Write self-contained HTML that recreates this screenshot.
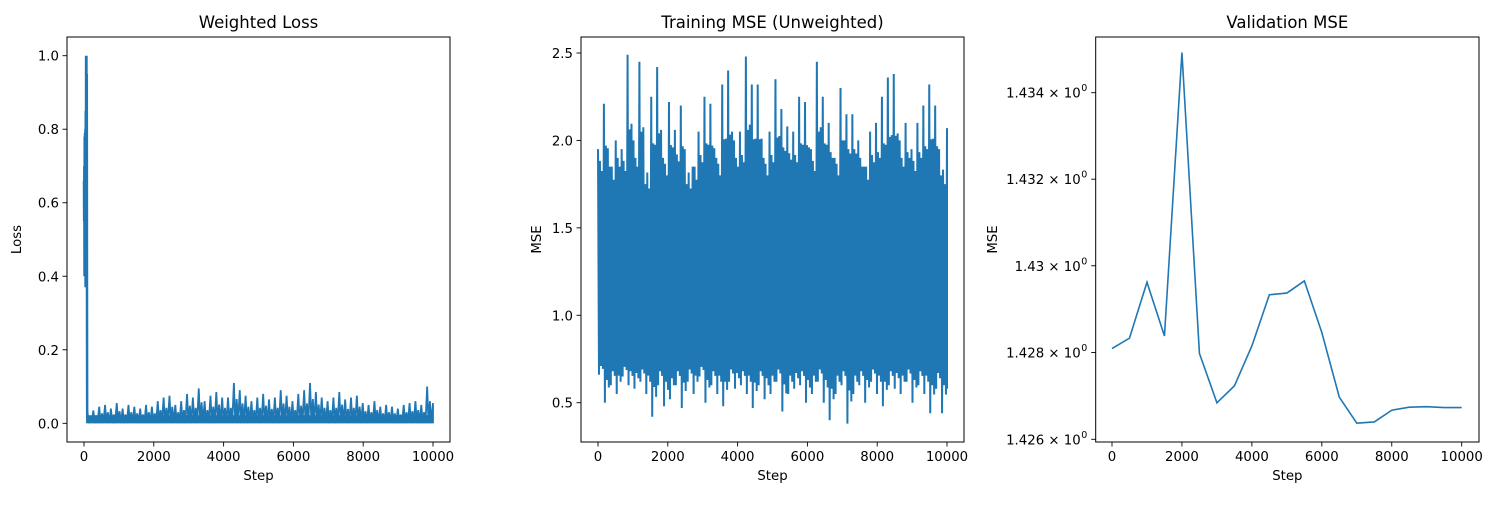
<!DOCTYPE html>
<html><head><meta charset="utf-8"><style>
body{margin:0;background:#fff}
svg text{font-family:"DejaVu Sans","Liberation Sans",sans-serif;fill:#000}
</style></head><body>
<svg id="fig" width="1500" height="500" viewBox="0 0 1500 500" xmlns="http://www.w3.org/2000/svg"></svg>
<script>
// ---- data ----
const stepTicks=[0,2000,4000,6000,8000,10000];
const lossTicks=[0.0,0.2,0.4,0.6,0.8,1.0];
const mseTicks=[0.5,1.0,1.5,2.0,2.5];
const valTicks=[1.426,1.428,1.430,1.432,1.434];
const valTickLabels=["1.426","1.428","1.43","1.432","1.434"];
// early loss (steps 0-90) envelope
const lossEarlySteps=[0,10,20,30,40,50,60,70,80,90];
const lossEarlyHi=[0.66,0.70,0.78,0.79,0.80,0.85,1.0,1.0,0.95,0.05];
const lossEarlyLo=[0.55,0.40,0.45,0.42,0.37,0.39,0.45,0.37,0.40,0.0];
// later loss per-bin peaks (60 bins from 100 to 10000)
const lossHi=[0.03,0.035,0.045,0.05,0.04,0.055,0.04,0.05,0.045,0.04,0.05,0.045,0.06,0.07,0.075,0.05,0.06,0.08,0.07,0.095,0.06,0.075,0.085,0.07,0.07,0.11,0.09,0.075,0.06,0.07,0.08,0.065,0.07,0.09,0.075,0.06,0.08,0.09,0.11,0.085,0.07,0.06,0.07,0.085,0.065,0.07,0.075,0.055,0.05,0.06,0.045,0.05,0.045,0.04,0.05,0.055,0.06,0.05,0.10,0.055];
// training MSE per-bin envelopes (60 bins over 0-10000)
const mseHi=[1.95,2.21,1.85,2.0,1.95,2.49,2.0,2.45,1.75,2.25,2.42,1.9,2.22,2.06,2.2,1.75,1.85,2.05,2.25,2.21,1.9,2.32,2.4,2.0,2.05,2.48,2.32,2.32,1.9,2.05,2.35,2.18,2.08,2.05,2.25,2.22,1.95,2.45,2.25,2.1,1.9,2.3,2.15,2.15,2.0,1.85,2.05,2.1,2.25,2.36,2.38,2.0,2.1,1.95,2.1,2.2,2.32,2.2,1.8,2.07];
const mseLo=[0.66,0.5,0.6,0.55,0.65,0.6,0.58,0.62,0.55,0.42,0.6,0.48,0.52,0.6,0.47,0.62,0.55,0.65,0.5,0.6,0.55,0.48,0.62,0.58,0.6,0.55,0.47,0.6,0.52,0.55,0.62,0.45,0.55,0.58,0.6,0.5,0.55,0.62,0.5,0.4,0.55,0.6,0.38,0.55,0.6,0.5,0.62,0.55,0.48,0.6,0.58,0.55,0.62,0.5,0.6,0.55,0.44,0.58,0.44,0.58];
const mseCoreHi=1.7, mseCoreLo=0.76;
// validation MSE
const valSteps=[0,500,1000,1500,2000,2500,3000,3500,4000,4500,5000,5500,6000,6500,7000,7500,8000,8500,9000,9500,10000];
const valMSE=[1.42809,1.42833,1.42962,1.42838,1.43493,1.42798,1.42684,1.42723,1.42815,1.42933,1.42937,1.42965,1.42846,1.42697,1.42637,1.42640,1.42667,1.42674,1.42675,1.42673,1.42673];

const NS="http://www.w3.org/2000/svg";
const svg=document.getElementById('fig');
const C='#1f77b4';
function mk(tag,attrs,parent){const e=document.createElementNS(NS,tag);for(const k in attrs)e.setAttribute(k,attrs[k]);(parent||svg).appendChild(e);return e;}
function lin(d0,d1,r0,r1){return v=>r0+(v-d0)/(d1-d0)*(r1-r0);}
const cl=s=>Math.min(10000,s);

function axesFrame(g,L,T,R,B,title,ylab,xs,ys,yt,ytl,sup,ylx){
  const t=mk('text',{x:(L+R)/2,y:T-9,'text-anchor':'middle','font-size':'16.5'},g);t.textContent=title;
  
  
  stepTicks.forEach(v=>{const x=xs(v);mk('line',{x1:x,x2:x,y1:B,y2:B+4.5,stroke:'#000','stroke-width':0.9},g);
    const l=mk('text',{x:x,y:B+19,'text-anchor':'middle','font-size':'13.3'},g);l.textContent=v;
    
    });
  yt.forEach((v,i)=>{const y=ys(v);mk('line',{x1:L-4.5,x2:L,y1:y,y2:y,stroke:'#000','stroke-width':0.9},g);
    if(sup){
      const l=mk('text',{x:L-15,y:y+5,'text-anchor':'end','font-size':'13.3'},g);l.textContent=ytl[i]+' × 10';
      
      
      mk('text',{x:L-14.5,y:y-1.5,'text-anchor':'start','font-size':'9.5'},g).textContent='0';
    } else {
      const l=mk('text',{x:L-8,y:y+5,'text-anchor':'end','font-size':'13.3'},g);l.textContent=v.toFixed(1);
      
      
    }
  });
  const xl=mk('text',{x:(L+R)/2,y:B+38,'text-anchor':'middle','font-size':'13.3'},g);xl.textContent='Step';
  
  
  const yx=ylx;
  const yl=mk('text',{x:yx,y:(T+B)/2,'text-anchor':'middle','font-size':'13.3',transform:`rotate(-90 ${yx} ${(T+B)/2})`},g);yl.textContent=ylab;
  
  
}
function border(g,L,T,R,B){const r=mk('rect',{x:L,y:T,width:R-L,height:B-T,fill:'none',stroke:'#000','stroke-width':1},g);
  
  }

// ---- Plot 1: weighted loss ----
{const L=67,T=37,R=450,B=442;
 const g=mk('g',{});
 const xs=lin(0,10000,84,433), ys=lin(0,1,423.3,55.7);
 let pts=[];lossEarlySteps.forEach((s,i)=>{pts.push(xs(s)+','+ys(lossEarlyHi[i]));pts.push(xs(s+5)+','+ys(lossEarlyLo[i]));});
 const e=mk('polyline',{points:pts.join(' '),fill:'none',stroke:C,'stroke-width':2.5},g);
 
 const n=lossHi.length, x0=100;
 const core=mk('rect',{x:xs(x0),y:ys(0.022),width:xs(10000)-xs(x0),height:ys(0)-ys(0.022),fill:C},g);
 
 let p2=[];lossHi.forEach((v,i)=>{const s=x0+i*(10000-x0)/(n-1);p2.push(xs(cl(s))+','+ys(v));p2.push(xs(cl(s+40))+','+ys(0));p2.push(xs(cl(s+80))+','+ys(v*0.6));p2.push(xs(cl(s+120))+','+ys(0));});
 const l=mk('polyline',{points:p2.join(' '),fill:'none',stroke:C,'stroke-width':1.8},g);
 
 axesFrame(g,L,T,R,B,'Weighted Loss','Loss',xs,ys,lossTicks,null,false,21);border(g,L,T,R,B);}

// ---- Plot 2: training MSE ----
{const L=581,T=37,R=964,B=442;
 const g=mk('g',{});
 const xs=lin(0,10000,598,947), ys=lin(0.5,2.5,402.7,53);
 const core=mk('rect',{x:xs(0),y:ys(mseCoreHi),width:xs(10000)-xs(0),height:ys(mseCoreLo)-ys(mseCoreHi),fill:C},g);
 
 const n=mseHi.length;let pts=[];
 mseHi.forEach((v,i)=>{const s=i*10000/(n-1);
   pts.push(xs(cl(s))+','+ys(v));pts.push(xs(cl(s+28))+','+ys(mseLo[i]));
   pts.push(xs(cl(s+56))+','+ys((v+2*mseCoreHi)/3+0.1));pts.push(xs(cl(s+84))+','+ys((mseLo[i]+mseCoreLo)/2));
   pts.push(xs(cl(s+112))+','+ys((v+mseCoreHi)/2));pts.push(xs(cl(s+140))+','+ys((2*mseLo[i]+mseCoreLo)/3));});
 const l=mk('polyline',{points:pts.join(' '),fill:'none',stroke:C,'stroke-width':2},g);
 
 axesFrame(g,L,T,R,B,'Training MSE (Unweighted)','MSE',xs,ys,mseTicks,null,false,541);border(g,L,T,R,B);}

// ---- Plot 3: validation MSE (log) ----
{const L=1095.7,T=37,R=1479,B=442;
 const g=mk('g',{});
 const xs=lin(0,10000,1112,1461.7);
 const ly=lin(Math.log(1.426),Math.log(1.434),439.3,92.7);const ys=v=>ly(Math.log(v));
 const pts=valSteps.map((s,i)=>xs(s)+','+ys(valMSE[i])).join(' ');
 const l=mk('polyline',{points:pts,fill:'none',stroke:C,'stroke-width':1.6},g);
 
 axesFrame(g,L,T,R,B,'Validation MSE','MSE',xs,ys,valTicks,valTickLabels,true,997);border(g,L,T,R,B);}
</script>
</body></html>
